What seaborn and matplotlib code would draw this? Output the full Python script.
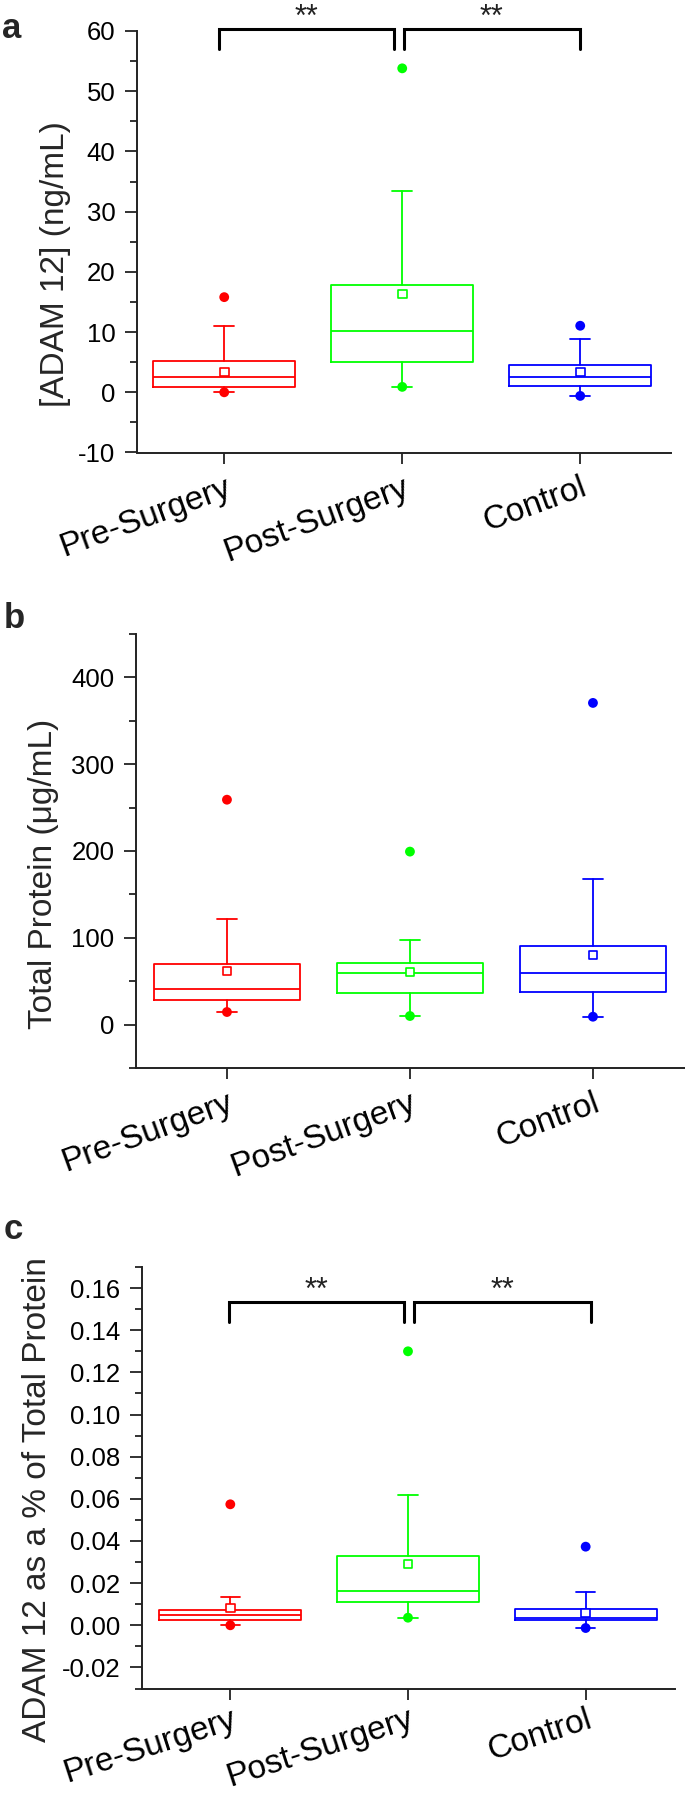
import numpy as np
import pandas as pd
import seaborn as sns
import matplotlib
matplotlib.use("Agg")
import matplotlib.pyplot as plt
from matplotlib.ticker import MultipleLocator, FormatStrFormatter

# ---------------- data ----------------
groups = ["Pre-Surgery", "Post-Surgery", "Control"]
colors = ["#FF0000", "#00FF00", "#0000FF"]

# Panel a: [ADAM 12] (ng/mL)
a_q1 = [0.9, 5.1, 1.1]
a_med = [2.5, 10.1, 2.6]
a_q3 = [5.2, 17.8, 4.6]
a_whi = [11.0, 33.5, 8.8]
a_min = [0.0, 0.9, -0.6]
a_max = [15.8, 53.8, 11.05]
a_mean = [3.4, 16.3, 3.4]

# Panel b: Total Protein (ug/mL)
b_q1 = [28.3, 36.0, 37.1]
b_med = [41.3, 59.7, 59.7]
b_q3 = [69.7, 70.8, 90.4]
b_whi = [121.4, 97.3, 167.4]
b_min = [14.5, 9.9, 9.1]
b_max = [259.1, 199.3, 370.6]
b_mean = [61.6, 60.8, 80.0]

# Panel c: ADAM 12 as a % of total protein
c_q1 = [0.0025, 0.0111, 0.0025]
c_med = [0.0047, 0.0164, 0.0036]
c_q3 = [0.0071, 0.0329, 0.0077]
c_whi = [0.0134, 0.0617, 0.0158]
c_min = [0.0, 0.0036, -0.0013]
c_max = [0.0574, 0.130, 0.0373]
c_mean = [0.0083, 0.0291, 0.0058]

# significance brackets
a_brackets = [(-0.03, 0.955), (1.01, 1.996)]
a_br_top, a_br_bot, a_star_y = 60.3, 57.0, 60.9
c_brackets = [(-0.01, 0.98), (1.035, 2.028)]
c_br_top, c_br_bot, c_star_y = 0.1532, 0.1437, 0.1547
star_label = "**"

# ---------------- style ----------------
sns.set_style("ticks")
plt.rcParams["font.family"] = ["Liberation Sans", "DejaVu Sans"]
plt.rcParams["axes.unicode_minus"] = False

W, H = 685, 1795
fig = plt.figure(figsize=(W / 100, H / 100), dpi=100)


def px_axes(l, r, t, b):
    return fig.add_axes([l / W, 1 - b / H, (r - l) / W, (b - t) / H])


def draw_panel(ax, q1, med, q3, whi, vmin, vmax, mean, xlim, ylim,
               major, minor, fmt, ylabel, ylab_px, ax_px, rot=20, xpad=6):
    pos = list(range(len(groups)))
    for i, g in enumerate(groups):
        st = dict(med=med[i], q1=q1[i], q3=q3[i], whislo=vmin[i],
                  whishi=whi[i], label=g)
        c = colors[i]
        lp = dict(color=c, linewidth=1.3)
        ax.bxp([st], positions=[i], widths=0.8, showfliers=False,
               boxprops=lp, whiskerprops=lp, capprops=lp, medianprops=lp,
               capwidths=0.11, manage_ticks=False)
    pal = dict(zip(groups, colors))
    sns.scatterplot(x=pos, y=vmax, hue=groups, palette=pal, s=50,
                    linewidth=0, legend=False, ax=ax, zorder=5)
    sns.scatterplot(x=pos, y=vmin, hue=groups, palette=pal, s=50,
                    linewidth=0, legend=False, ax=ax, zorder=5)
    ax.scatter(pos, mean, marker="s", s=38, facecolors="white",
               edgecolors=colors, linewidths=1.2, zorder=6)
    ax.set_xlim(*xlim)
    ax.set_ylim(*ylim)
    ax.set_xticks(pos)
    ax.set_xticklabels(groups, fontsize=24, rotation=rot, ha="right",
                       va="top", rotation_mode="anchor")
    ax.yaxis.set_major_locator(MultipleLocator(major))
    ax.yaxis.set_minor_locator(MultipleLocator(minor))
    ax.yaxis.set_major_formatter(FormatStrFormatter(fmt))
    ax.tick_params(axis="y", which="major", labelsize=18.5, length=9,
                   width=1.3, direction="out", pad=6.5, colors="#222222",
                   labelcolor="black")
    ax.tick_params(axis="y", which="minor", length=5, width=1.3,
                   direction="out", colors="#222222")
    ax.tick_params(axis="x", which="major", length=8, width=1.3,
                   direction="out", pad=xpad, colors="#222222",
                   labelcolor="black")
    for s in ["left", "bottom"]:
        ax.spines[s].set_linewidth(1.4)
        ax.spines[s].set_color("#222222")
    sns.despine(ax=ax)
    l, r, t, b = ax_px
    ax.set_ylabel(ylabel, fontsize=24, va="center", ha="center")
    ax.yaxis.set_label_coords((ylab_px[0] - l) / (r - l),
                              1 - (ylab_px[1] - t) / (b - t))
    ax.set_facecolor("white")


def draw_brackets(ax, brackets, top, bot, stary):
    for x0, x1 in brackets:
        ax.plot([x0, x0, x1, x1], [bot, top, top, bot], color="black",
                lw=2.2, clip_on=False, solid_joinstyle="miter")
        ax.text((x0 + x1) / 2, stary, star_label, ha="center", va="baseline",
                fontsize=22, clip_on=False, color="#222222")


# Panel a
pa = (137, 671, 31, 452.5)
axa = px_axes(*pa)
draw_panel(axa, a_q1, a_med, a_q3, a_whi, a_min, a_max, a_mean,
           (-0.49, 2.51), (-10, 60), 10, 5, "%d", "[ADAM 12] (ng/mL)",
           (56, 264), pa)
draw_brackets(axa, a_brackets, a_br_top, a_br_bot, a_star_y)

# Panel b
pb = (136, 685, 634, 1068)
axb = px_axes(*pb)
draw_panel(axb, b_q1, b_med, b_q3, b_whi, b_min, b_max, b_mean,
           (-0.497, 2.503), (-50, 450), 100, 50, "%d",
           "Total Protein (\u03bcg/mL)", (44, 874), pb)

# Panel c
pc = (142, 674.5, 1267, 1688.5)
axc = px_axes(*pc)
draw_panel(axc, c_q1, c_med, c_q3, c_whi, c_min, c_max, c_mean,
           (-0.497, 2.5), (-0.03, 0.17), 0.02, 0.01, "%.2f",
           "ADAM 12 as a % of Total Protein", (38, 1500), pc, rot=18, xpad=3)
draw_brackets(axc, c_brackets, c_br_top, c_br_bot, c_star_y)

# panel letters
for letter, (x, y) in zip(["a", "b", "c"], [(2, 38), (4, 628), (4, 1239)]):
    fig.text(x / W, 1 - y / H, letter, fontsize=25, fontweight="bold",
             ha="left", va="baseline")

fig.savefig("out.png", dpi=100, facecolor="white")
